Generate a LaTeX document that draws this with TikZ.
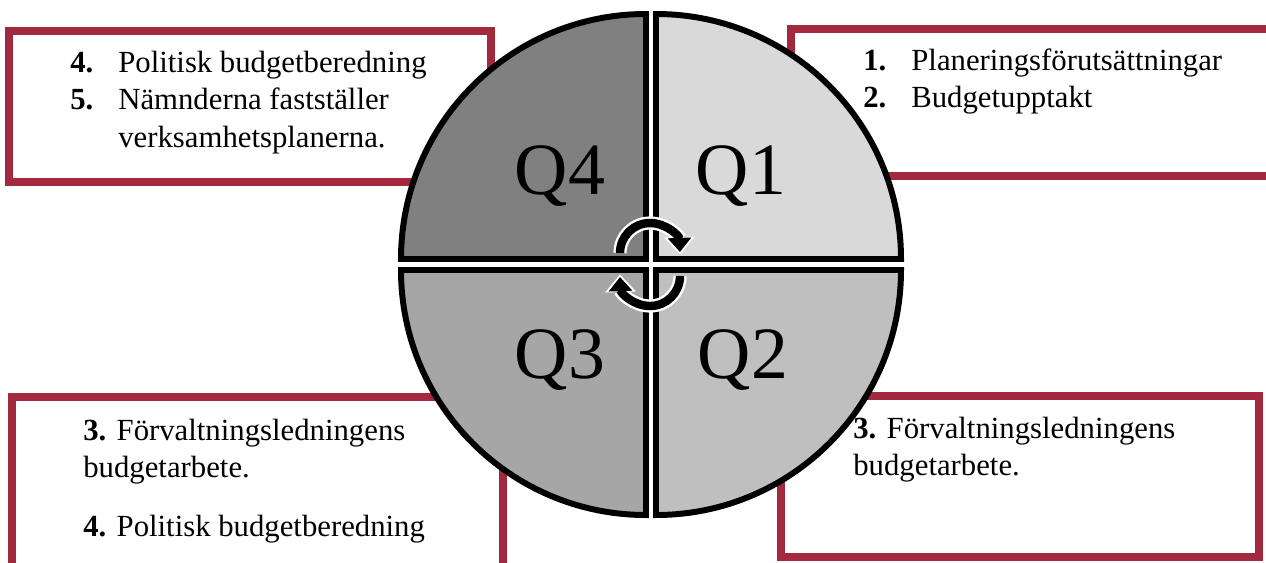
\documentclass[tikz,border=0pt]{standalone}
\usepackage{fontspec}
\setmainfont{Liberation Serif}
\usepackage{tikz}
\usetikzlibrary{arrows.meta}
\definecolor{bpRed}{HTML}{A3293E}
\definecolor{bpQone}{HTML}{D9D9D9}
\definecolor{bpQtwo}{HTML}{BFBFBF}
\definecolor{bpQthree}{HTML}{A6A6A6}
\definecolor{bpQfour}{HTML}{808080}

\begin{document}
\begin{tikzpicture}[x=0.02cm, y=-0.02cm,
  frame/.style={draw=bpRed, line width=4.5pt},
  quarter/.style={draw=black, line width=3.4pt},
  qlabel/.style={anchor=base, inner sep=0pt, font=\fontsize{42}{50}\selectfont},
  txt/.style={anchor=base west, inner sep=0pt, font=\fontsize{17.5}{21.6}\selectfont},
  cycarrow/.style={line width=4.8pt, -{Triangle[length=8pt, width=13pt]},
    preaction={draw=white, line width=7.5pt, shorten >=-1.5pt, -{Triangle[length=10pt, width=17pt]}}}]
  \clip (0,0) rectangle (1266,562);

  % rode ramar
  \draw[frame] (9,31) rectangle (491,182);
  \draw[frame] (791,29) rectangle (1290,176);
  \draw[frame] (12,397) rectangle (503,580);
  \draw[frame] (781,396) rectangle (1259,557);

  % kvartalen
  \draw[quarter, fill=bpQfour] (646,259) -- (401,259) arc[start angle=180, end angle=270, radius=245] -- cycle;
  \draw[quarter, fill=bpQone] (656,259) -- (656,14) arc[start angle=270, end angle=360, radius=245] -- cycle;
  \draw[quarter, fill=bpQtwo] (656,270) -- (901,270) arc[start angle=0, end angle=90, radius=245] -- cycle;
  \draw[quarter, fill=bpQthree] (646,270) -- (646,515) arc[start angle=90, end angle=180, radius=245] -- cycle;

  \node[qlabel] (qfour) at (560,194) {Q4};
  \node[qlabel] (qone) at (741,194) {Q1};
  \node[qlabel] (qthree) at (560,378) {Q3};
  \node[qlabel] (qtwo) at (743,378) {Q2};

  \node[txt] (tltext) at (70,72) {\begin{tabular}[t]{@{}p{0.96cm}@{}l@{}}
    \textbf{4.} & Politisk budgetberedning\\
    \textbf{5.} & Nämnderna fastställer\\
                & verksamhetsplanerna.
  \end{tabular}};
  \node[txt] (trtext) at (863,70) {\begin{tabular}[t]{@{}p{0.96cm}@{}l@{}}
    \textbf{1.} & Planeringsförutsättningar\\
    \textbf{2.} & Budgetupptakt
  \end{tabular}};
  \node[txt] (bltext) at (83,440) {\begin{tabular}[t]{@{}l@{}}
    \textbf{3.} Förvaltningsledningens\\
    budgetarbete.\\[12pt]
    \textbf{4.} Politisk budgetberedning
  \end{tabular}};
  \node[txt] (brtext) at (853,438) {\begin{tabular}[t]{@{}l@{}}
    \textbf{3.} Förvaltningsledningens\\
    budgetarbete.
  \end{tabular}};

  % cirkelpilar
  \draw[cycarrow] (620,253) arc[start angle=180, end angle=358, radius=30];
  \draw[cycarrow] (680,276) arc[start angle=0, end angle=178, radius=30];
\end{tikzpicture}
\end{document}
